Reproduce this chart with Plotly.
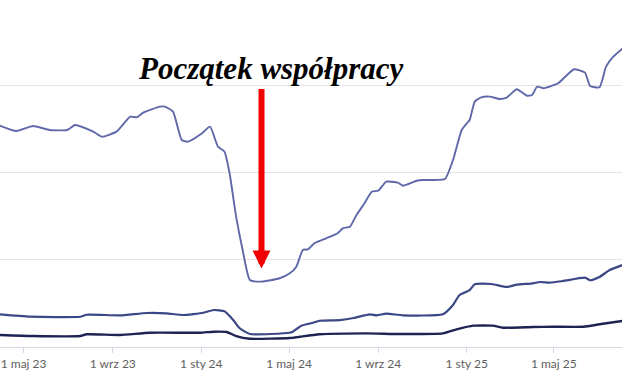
import plotly.graph_objects as go

# ---- data ----
top_dates = ["2023-03-27", "2023-04-21", "2023-05-14", "2023-06-06", "2023-06-30", "2023-07-11",
             "2023-08-05", "2023-08-17", "2023-09-06", "2023-09-25", "2023-10-04", "2023-10-13",
             "2023-11-05", "2023-11-12", "2023-11-23", "2023-12-05", "2023-12-14", "2024-01-02",
             "2024-01-13", "2024-01-24", "2024-02-02", "2024-02-09", "2024-02-18", "2024-02-27",
             "2024-03-08", "2024-03-24", "2024-04-18", "2024-05-02", "2024-05-11", "2024-05-20",
             "2024-05-27", "2024-06-05", "2024-06-21", "2024-07-07", "2024-07-14", "2024-07-24",
             "2024-08-02", "2024-08-13", "2024-08-23", "2024-09-01", "2024-09-12", "2024-09-28",
             "2024-10-05", "2024-10-24", "2024-11-02", "2024-11-15", "2024-12-02", "2024-12-13",
             "2024-12-25", "2025-01-01", "2025-01-05", "2025-01-12", "2025-01-21", "2025-02-02",
             "2025-02-15", "2025-02-25", "2025-03-11", "2025-03-25", "2025-04-01", "2025-04-08",
             "2025-04-17", "2025-05-07", "2025-05-16", "2025-05-29", "2025-06-13", "2025-06-20",
             "2025-07-03", "2025-07-12", "2025-07-22", "2025-08-04"]
top_values = [2552, 2483, 2540, 2494, 2494, 2552,
              2475, 2417, 2475, 2647, 2640, 2693,
              2762, 2762, 2705, 2379, 2360, 2456,
              2532, 2302, 2245, 1997, 1498, 1115,
              770, 751, 790, 847, 923, 1115,
              1123, 1192, 1249, 1307, 1364, 1383,
              1517, 1652, 1785, 1797, 1900, 1888,
              1854, 1911, 1919, 1919, 1931, 2149,
              2494, 2571, 2609, 2820, 2870, 2877,
              2851, 2866, 2962, 2888, 2896, 2992,
              2974, 3031, 3100, 3192, 3153, 3000,
              2985, 3222, 3337, 3433]

mid_dates = ["2023-03-27", "2023-05-10", "2023-07-18", "2023-07-27", "2023-09-11", "2023-10-18",
             "2023-11-14", "2023-12-07", "2024-01-04", "2024-01-18", "2024-02-02", "2024-02-14",
             "2024-02-23", "2024-03-08", "2024-05-02", "2024-05-06", "2024-05-18", "2024-06-03",
             "2024-06-12", "2024-07-10", "2024-07-29", "2024-08-20", "2024-08-30", "2024-09-12",
             "2024-10-05", "2024-11-29", "2024-12-13", "2024-12-22", "2025-01-05", "2025-01-12",
             "2025-02-04", "2025-02-25", "2025-03-11", "2025-04-02", "2025-04-12", "2025-04-26",
             "2025-05-14", "2025-06-13", "2025-06-20", "2025-07-03", "2025-07-17", "2025-08-04"]
mid_values = [376, 348, 348, 371, 364, 391,
              387, 368, 394, 425, 410, 310,
              215, 149, 164, 176, 245, 279,
              302, 310, 333, 376, 364, 383,
              364, 376, 483, 598, 655, 721,
              724, 690, 716, 732, 747, 739,
              759, 797, 767, 805, 885, 943]

low_dates = ["2023-03-27", "2023-05-14", "2023-07-18", "2023-07-27", "2023-09-11", "2023-10-22",
             "2023-12-30", "2024-01-18", "2024-02-05", "2024-02-18", "2024-03-08", "2024-05-02",
             "2024-05-16", "2024-06-12", "2024-08-16", "2024-10-01", "2024-11-29", "2024-12-18",
             "2025-01-10", "2025-02-06", "2025-02-20", "2025-04-02", "2025-04-30", "2025-06-11",
             "2025-07-03", "2025-08-04"]
low_values = [138, 126, 126, 146, 138, 164,
              164, 176, 172, 126, 95, 103,
              118, 146, 157, 149, 157, 203,
              245, 245, 222, 230, 233, 233,
              261, 299]

tick_dates = ["2023-05-01", "2023-09-01", "2024-01-01", "2024-05-01",
              "2024-09-01", "2025-01-01", "2025-05-01"]
tick_labels = ["1 maj 23", "1 wrz 23", "1 sty 24", "1 maj 24",
               "1 wrz 24", "1 sty 25", "1 maj 25"]

annotation_text = "Początek współpracy"

fig = go.Figure()
fig.add_trace(go.Scatter(x=low_dates, y=low_values, mode="lines",
                         line=dict(color="#1d2352", width=2.4, shape="spline", smoothing=0.5),
                         hoverinfo="skip"))
fig.add_trace(go.Scatter(x=mid_dates, y=mid_values, mode="lines",
                         line=dict(color="#3c4786", width=2.2, shape="spline", smoothing=0.5),
                         hoverinfo="skip"))
fig.add_trace(go.Scatter(x=top_dates, y=top_values, mode="lines",
                         line=dict(color="#5f69aa", width=1.9, shape="spline", smoothing=0.5),
                         hoverinfo="skip"))

# title text
fig.add_annotation(text=annotation_text, xref="paper", yref="paper",
                   x=271 / 622, y=0.804, xanchor="center", yanchor="middle",
                   showarrow=False,
                   font=dict(family="Liberation Serif", size=31, color="#000000",
                             weight="bold", style="italic"))
# red arrow
fig.add_annotation(text="", x="2024-03-24", y=902, xref="x", yref="y",
                   ax=0, ay=-181, axref="pixel", ayref="pixel",
                   showarrow=True, arrowhead=2, arrowsize=0.6, arrowwidth=6,
                   arrowcolor="#f00000")

fig.update_layout(
    width=622, height=374,
    margin=dict(l=0, r=0, t=0, b=27, pad=0),
    paper_bgcolor="white", plot_bgcolor="white",
    showlegend=False, hovermode=False,
    xaxis=dict(type="date", range=["2023-03-29 11:00", "2025-08-03 00:30"],
               tickvals=tick_dates, ticktext=tick_labels,
               showgrid=False, zeroline=False,
               showline=True, linecolor="#d3d9e3", linewidth=1,
               ticks="outside", ticklen=5, tickcolor="#d3d9e3",
               ticklabelstandoff=1,
               tickfont=dict(family="Lato", size=12, color="#606060")),
    yaxis=dict(range=[0, 3988], tickvals=[1000, 2000, 3000, 4000],
               showticklabels=False, showgrid=True, gridcolor="#e4e4e4", gridwidth=1,
               zeroline=False, showline=False),
)

fig.write_html("out.html", config={"displayModeBar": False},
               post_script="document.body.style.margin='0px';document.body.style.overflow='hidden';")
